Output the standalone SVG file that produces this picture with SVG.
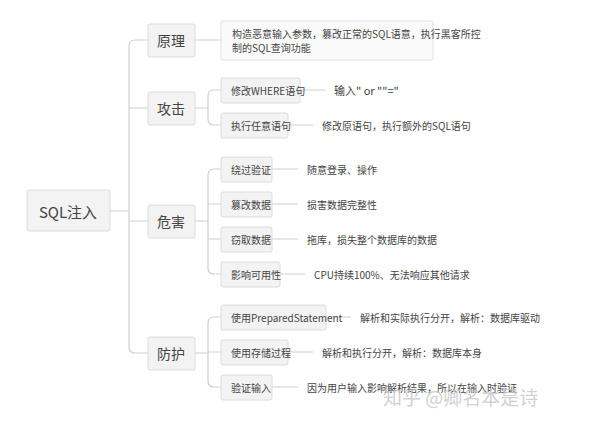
<svg xmlns="http://www.w3.org/2000/svg" width="600" height="421" viewBox="0 0 600 421">
<style>
text{font-family:"Noto Sans CJK SC","Noto Sans",sans-serif;fill:#444}
.b{fill:#f3f3f3;stroke:#dcdcdc;stroke-width:1}
.d{fill:#fafafa;stroke:#e0e0e0}
.s{font-size:10px;dominant-baseline:central}
.m{font-size:14px;dominant-baseline:central;text-anchor:middle}
.c path{fill:none;stroke:#cfcfcf;stroke-width:1.2}
</style>
<rect width="600" height="421" fill="#fff"/>
<g class="c">
<path d="M110 211H129M148 40H135Q129 40 129 46V347Q129 353 135 353H148M129 108H148M129 221H148"/>
<path d="M195 40H221M195 108H208M221 90H214Q208 90 208 96V119Q208 125 214 125H221"/>
<path d="M195 221H208M221 169H214Q208 169 208 175V268Q208 274 214 274H221M208 204H221M208 239H221"/>
<path d="M195 353H208M221 317H214Q208 317 208 323V381Q208 387 214 387H221M208 352H221"/>
<path d="M300 90H325M288 125H313M272 169H298M272 204H298M272 239H298M280 274H305M326 317H351M288 352H313M272 387H298"/>
</g>
<g id="root"><rect class="b" x="27" y="190" width="83" height="41" rx="2"/><text class="m" x="68" y="211" style="font-size:15px">SQL注入</text></g>
<g id="n1"><rect class="b" x="148" y="24" width="47" height="33" rx="2"/><text class="m" x="171" y="40">原理</text></g>
<g id="n2"><rect class="b" x="148" y="92" width="47" height="33" rx="2"/><text class="m" x="171" y="108">攻击</text></g>
<g id="n3"><rect class="b" x="148" y="205" width="47" height="33" rx="2"/><text class="m" x="171" y="221">危害</text></g>
<g id="n4"><rect class="b" x="148" y="337" width="47" height="33" rx="2"/><text class="m" x="171" y="353">防护</text></g>
<g id="d1"><rect class="d" x="221" y="21" width="212" height="39" rx="2"/><text class="s" x="232" y="33">构造恶意输入参数，篡改正常的SQL语意，执行黑客所控</text><text class="s" x="232" y="47">制的SQL查询功能</text></g>
<g id="a1"><rect class="b" x="221" y="78" width="79" height="25" rx="2"/><text class="s" x="231" y="90">修改WHERE语句</text><text class="s" x="334" y="90" style="font-size:11px">输入" or ""="</text></g>
<g id="a2"><rect class="b" x="221" y="113" width="67" height="25" rx="2"/><text class="s" x="231" y="125">执行任意语句</text><text class="s" x="322" y="125">修改原语句，执行额外的SQL语句</text></g>
<g id="h1"><rect class="b" x="221" y="157" width="51" height="25" rx="2"/><text class="s" x="231" y="169">绕过验证</text><text class="s" x="307" y="169">随意登录、操作</text></g>
<g id="h2"><rect class="b" x="221" y="192" width="51" height="25" rx="2"/><text class="s" x="231" y="204">篡改数据</text><text class="s" x="307" y="204">损害数据完整性</text></g>
<g id="h3"><rect class="b" x="221" y="227" width="51" height="25" rx="2"/><text class="s" x="231" y="239">窃取数据</text><text class="s" x="307" y="239">拖库，损失整个数据库的数据</text></g>
<g id="h4"><rect class="b" x="221" y="262" width="59" height="25" rx="2"/><text class="s" x="231" y="274">影响可用性</text><text class="s" x="314" y="274">CPU持续100%、无法响应其他请求</text></g>
<g id="p1"><rect class="b" x="221" y="305" width="105" height="25" rx="2"/><text class="s" x="231" y="317">使用PreparedStatement</text><text class="s" x="360" y="317">解析和实际执行分开，解析：数据库驱动</text></g>
<g id="p2"><rect class="b" x="221" y="340" width="67" height="25" rx="2"/><text class="s" x="231" y="352">使用存储过程</text><text class="s" x="322" y="352">解析和执行分开，解析：数据库本身</text></g>
<g id="p3"><rect class="b" x="221" y="375" width="51" height="25" rx="2"/><text class="s" x="231" y="387">验证输入</text><text class="s" x="307" y="387">因为用户输入影响解析结果，所以在输入时验证</text></g>
<text x="383" y="405" style="font-size:19px;fill:#c8c8c8;fill-opacity:0.85">知乎 @卿名本是诗</text>
</svg>
